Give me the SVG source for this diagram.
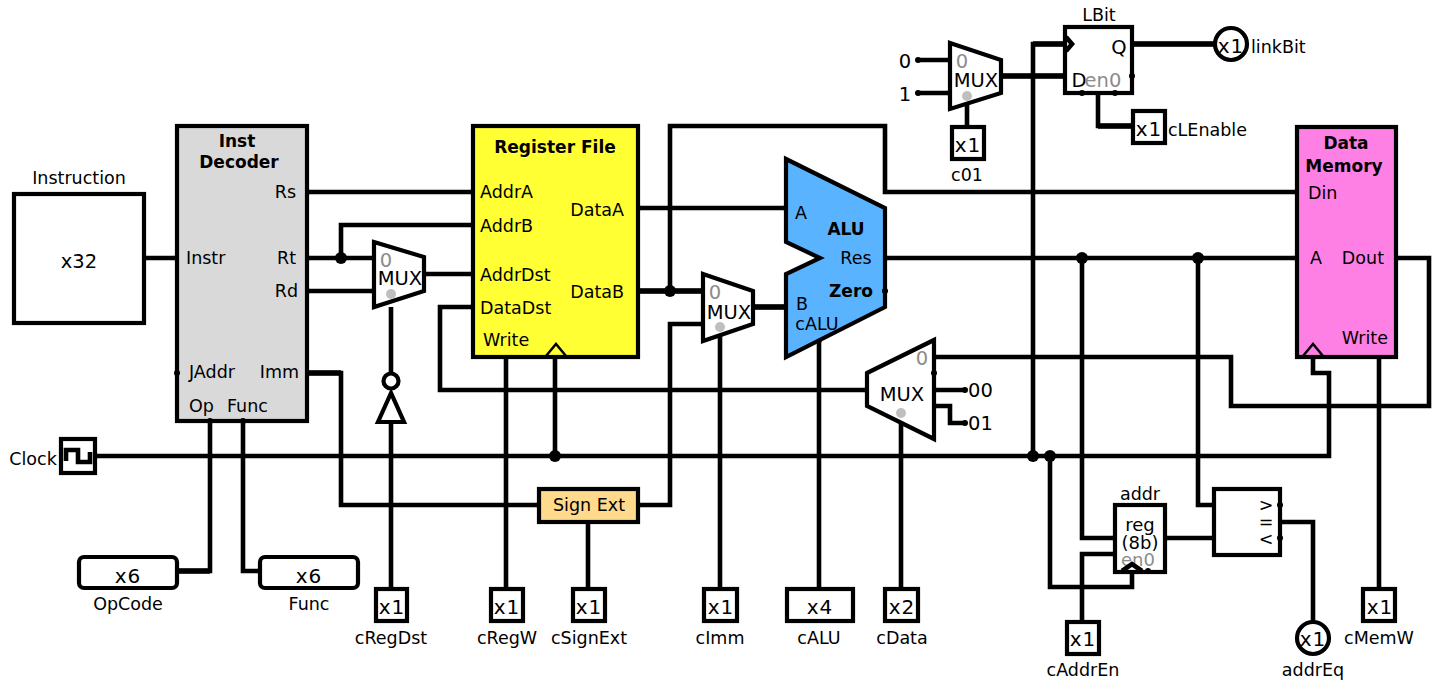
<svg xmlns="http://www.w3.org/2000/svg" width="1437" height="683" viewBox="0 0 1437 683">
<style>
text{font-family:"DejaVu Sans","Liberation Sans",sans-serif;font-size:17.5px;fill:#000;text-anchor:middle}
.s{stroke:#000;stroke-width:4.2;fill:#fff;stroke-linejoin:miter}
.w{stroke:#000;stroke-width:4.6;fill:none;stroke-linejoin:miter}
.t{stroke-width:5.6}
.b{font-weight:bold;font-size:17px}
.g{fill:#8c8c8c}
.l{text-anchor:start}
.e{text-anchor:end}
.p{fill:#000}
.x{fill:#bfbfbf}
.m{font-size:19.5px}
.n{font-size:18px}
.v{font-size:20px;letter-spacing:1px}
</style>
<g id="connectors">
<path class="w" d="M144 258H177M307 192H473M307 258H374M341 258V225H473M307 291H374M424 274H473M391 307V375M391 422V589M307 373H341V505H539M210 421V571H177M243 421V571H260M95 456H1329V373H1313V355M555 456V352M473 307H440V390H867M506 357V589M588 522V589M638 505H670V324H703M670 291V126H885V192H1297M638 291H703M638 208H786M753 307H786M720 335V589M819 340V589M901 423V589M885 258H1297M1396 258H1429V406H1231V357H934M934 390H965M934 406H950V423H965M1033 456V44H1070M1001 76H1065M918 60H950M918 93H950M967 105V127M1132 44H1215M1098 93V126H1133M1050 456V587H1132V565M1082 258V538H1115M1115 554H1082V622M1165 538H1214M1198 258V505H1214M1280 522H1313V622M1379 357V589"/>
<path class="w t" d="M1001 76H1065M307 373H341M753 307H786M1132 44H1215M638 291H703M210 571H177M1033 44H1065M1098 126H1133"/>
<g class="p">
<circle cx="341" cy="258" r="6"/><circle cx="555" cy="456" r="6"/><circle cx="670" cy="291" r="6"/><circle cx="1082" cy="258" r="6"/><circle cx="1198" cy="258" r="6"/><circle cx="1033" cy="456" r="6"/><circle cx="1050" cy="456" r="6"/>
<circle cx="144" cy="258" r="3"/><circle cx="177" cy="258" r="3"/><circle cx="307" cy="192" r="3"/><circle cx="307" cy="258" r="3"/><circle cx="307" cy="291" r="3"/><circle cx="307" cy="373" r="3"/><circle cx="374" cy="258" r="3"/><circle cx="374" cy="291" r="3"/><circle cx="424" cy="274" r="3"/><circle cx="473" cy="192" r="3"/><circle cx="473" cy="225" r="3"/><circle cx="473" cy="274" r="3"/><circle cx="473" cy="307" r="3"/><circle cx="638" cy="208" r="3"/><circle cx="638" cy="291" r="3"/><circle cx="703" cy="291" r="3"/><circle cx="703" cy="324" r="3"/><circle cx="753" cy="307" r="3"/><circle cx="786" cy="208" r="3"/><circle cx="786" cy="307" r="3"/><circle cx="885" cy="258" r="3"/><circle cx="819" cy="340" r="3"/><circle cx="867" cy="390" r="3"/><circle cx="934" cy="357" r="3"/><circle cx="934" cy="390" r="3"/><circle cx="934" cy="406" r="3"/><circle cx="965" cy="390" r="3"/><circle cx="965" cy="423" r="3"/><circle cx="1297" cy="192" r="3"/><circle cx="1297" cy="258" r="3"/><circle cx="1396" cy="258" r="3"/><circle cx="918" cy="60" r="3"/><circle cx="918" cy="93" r="3"/><circle cx="950" cy="60" r="3"/><circle cx="950" cy="93" r="3"/><circle cx="1001" cy="76" r="3"/><circle cx="1065" cy="76" r="3"/><circle cx="1132" cy="44" r="3"/><circle cx="1098" cy="93" r="3"/><circle cx="1133" cy="126" r="3"/><circle cx="1115" cy="538" r="3"/><circle cx="1115" cy="554" r="3"/><circle cx="1165" cy="538" r="3"/><circle cx="1214" cy="505" r="3"/><circle cx="1214" cy="538" r="3"/><circle cx="1280" cy="522" r="3"/><circle cx="177" cy="571" r="3"/><circle cx="260" cy="571" r="3"/><circle cx="95" cy="456" r="3"/><circle cx="539" cy="505" r="3"/><circle cx="638" cy="505" r="3"/>
</g>
</g>
<g id="instruction"><rect class="s" x="14" y="194" width="130" height="129"/><text x="79" y="184">Instruction</text><text x="79" y="268" class="m">x32</text></g>
<g id="decoder"><rect class="s" x="177" y="126" width="130" height="295" style="fill:#d9d9d9"/>
<text x="237" y="147" class="b">Inst</text><text x="239" y="168" class="b">Decoder</text>
<text x="296" y="198" class="e">Rs</text><text x="186" y="264" class="l">Instr</text><text x="296" y="264" class="e">Rt</text><text x="298" y="297" class="e">Rd</text><text x="189" y="378" class="l">JAddr</text><text x="299" y="378" class="e">Imm</text><text x="189" y="412" class="l">Op</text><text x="227" y="412" class="l">Func</text>
<circle class="p" cx="177" cy="373" r="3"/><circle class="p" cx="210" cy="421" r="3"/><circle class="p" cx="243" cy="421" r="3"/></g>
<g id="regfile"><rect class="s" x="473" y="126" width="165" height="231" style="fill:#ff3"/>
<text x="555" y="153" class="b">Register File</text>
<text x="480" y="198" class="l">AddrA</text><text x="480" y="232" class="l">AddrB</text><text x="480" y="281" class="l">AddrDst</text><text x="480" y="314" class="l">DataDst</text><text x="483" y="346" class="l">Write</text><text x="624" y="216" class="e">DataA</text><text x="624" y="298" class="e">DataB</text>
<path class="w" style="stroke-width:2.5" d="M546 356L556 344L566 356"/></g>
<g id="alu"><path class="s" d="M786 159L885 208V307L786 357V274L820 258L786 242Z" style="fill:#59b3ff"/>
<text x="846" y="235" class="b">ALU</text><text x="856" y="264">Res</text><text x="851" y="297" class="b">Zero</text><text x="801" y="219">A</text><text x="802" y="310">B</text><text x="817" y="330">cALU</text>
<circle class="p" cx="885" cy="291" r="3"/></g>
<g id="memory"><rect class="s" x="1297" y="127" width="99" height="230" style="fill:#ff80e5"/>
<text x="1346" y="149" class="b">Data</text><text x="1344" y="172" class="b">Memory</text><text x="1308" y="199" class="l">Din</text><text x="1316" y="264">A</text><text x="1384" y="264" class="e">Dout</text><text x="1388" y="344" class="e">Write</text>
<path class="w" style="stroke-width:2.5" d="M1303 356L1313 344L1323 356"/></g>
<g id="mux-regdst"><path class="s" d="M374 242L424 257V291L374 307Z"/><text x="386" y="267" class="g m">0</text><text x="400" y="285" class="m">MUX</text><circle class="x" cx="391" cy="294" r="5"/></g>
<g id="mux-imm"><path class="s" d="M703 274L753 291V324L703 341Z"/><text x="715" y="299" class="g m">0</text><text x="729" y="319" class="m">MUX</text><circle class="x" cx="720" cy="327" r="5"/></g>
<g id="mux-data"><path class="s" d="M867 373L934 340V439L867 406Z"/><text x="922" y="365" class="g m">0</text><text x="902" y="401" class="m">MUX</text><circle class="x" cx="901" cy="413" r="5"/><circle class="p" cx="934" cy="373" r="3"/></g>
<g id="mux-01"><path class="s" d="M950 43L1001 60V93L950 109Z"/><text x="962" y="68" class="g m">0</text><text x="976" y="87" class="m">MUX</text><circle class="x" cx="967" cy="96" r="5"/><text x="905" y="68" class="m">0</text><text x="905" y="101" class="m">1</text></g>
<g id="inverter"><circle class="s" cx="391" cy="381" r="7.5"/><path class="s" d="M391 393L378 422H404Z"/></g>
<g id="signext"><rect class="s" x="539" y="489" width="99" height="33" style="fill:#ffd98c"/><text x="589" y="511">Sign Ext</text></g>
<g id="lbit"><rect class="s" x="1065" y="27" width="67" height="66"/><text x="1099" y="21">LBit</text><text x="1119" y="54" class="m">Q</text><text x="1079" y="87" class="m">D</text><text x="1103" y="87" class="g m">en0</text><path class="w" d="M1066 37L1072 44L1066 51"/><circle class="p" cx="1132" cy="76" r="3"/><circle class="p" cx="1082" cy="93" r="3"/><circle class="p" cx="1115" cy="93" r="3"/></g>
<g id="clbenable"><rect class="s" x="1133" y="111" width="32" height="32"/><text x="1149" y="136" class="v">x1</text><text x="1168" y="136" class="l">cLEnable</text></g>
<g id="c01"><rect class="s" x="952" y="127" width="32" height="32"/><text x="968" y="152" class="v">x1</text><text x="967" y="181">c01</text></g>
<g id="linkbit"><circle class="s" cx="1231" cy="44" r="16"/><text x="1231" y="53" class="v">x1</text><text x="1251" y="53" class="l">linkBit</text></g>
<g id="addr"><rect class="s" x="1115" y="505" width="50" height="67"/><text x="1140" y="500">addr</text><text x="1140" y="531" class="n">reg</text><text x="1140" y="549" class="n">(8b)</text><text x="1138" y="566" class="g n">en0</text><path class="w" d="M1122 571L1132 564L1142 571"/><circle class="p" cx="1148" cy="571" r="3"/></g>
<g id="comparator"><rect class="s" x="1214" y="489" width="66" height="66"/><text x="1266" y="511">&gt;</text><text x="1266" y="528">=</text><text x="1266" y="545">&lt;</text><circle class="p" cx="1280" cy="505" r="3"/><circle class="p" cx="1280" cy="538" r="3"/></g>
<g id="caddren"><rect class="s" x="1067" y="622" width="32" height="32"/><text x="1083" y="646" class="v">x1</text><text x="1083" y="676">cAddrEn</text></g>
<g id="addreq"><circle class="s" cx="1313" cy="638" r="16"/><text x="1313" y="646" class="v">x1</text><text x="1313" y="676">addrEq</text></g>
<g id="cregdst"><rect class="s" x="376" y="589" width="31" height="32"/><text x="392" y="614" class="v">x1</text><text x="391" y="644">cRegDst</text></g>
<g id="cregw"><rect class="s" x="491" y="589" width="32" height="32"/><text x="507" y="614" class="v">x1</text><text x="507" y="644">cRegW</text></g>
<g id="csignext"><rect class="s" x="573" y="589" width="32" height="32"/><text x="589" y="614" class="v">x1</text><text x="589" y="644">cSignExt</text></g>
<g id="cimm"><rect class="s" x="704" y="589" width="33" height="32"/><text x="721" y="614" class="v">x1</text><text x="720" y="644">cImm</text></g>
<g id="calu"><rect class="s" x="787" y="589" width="66" height="32"/><text x="820" y="614" class="v">x4</text><text x="819" y="644">cALU</text></g>
<g id="cdata"><rect class="s" x="885" y="589" width="33" height="32"/><text x="902" y="614" class="v">x2</text><text x="902" y="644">cData</text></g>
<g id="cmemw"><rect class="s" x="1363" y="589" width="32" height="32"/><text x="1380" y="614" class="v">x1</text><text x="1379" y="644">cMemW</text></g>
<g id="opcode"><rect class="s" x="79" y="557" width="98" height="31" rx="5"/><text x="128" y="583" class="v">x6</text><text x="128" y="610">OpCode</text></g>
<g id="func"><rect class="s" x="260" y="557" width="98" height="31" rx="5"/><text x="309" y="583" class="v">x6</text><text x="309" y="610">Func</text></g>
<g id="clock"><rect class="s" x="61" y="439" width="34" height="34"/><path class="w" d="M66 461V450H78V462H90V452"/><text x="33" y="465">Clock</text></g>
<g id="mux-data-inputs"><text x="968" y="397" class="l m">00</text><text x="968" y="430" class="l m">01</text></g>
</svg>
